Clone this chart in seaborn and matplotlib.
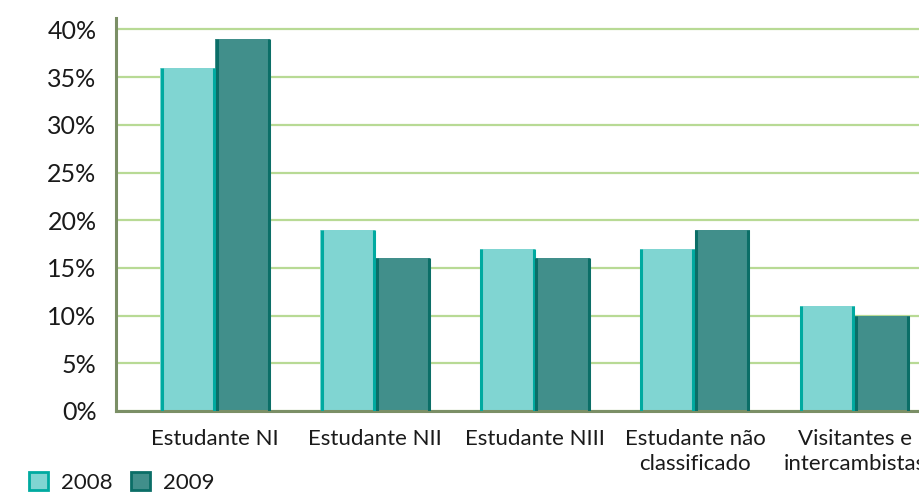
import pandas as pd
import numpy as np
import matplotlib
matplotlib.use('Agg')
import matplotlib.pyplot as plt
from matplotlib.patches import Patch
from matplotlib.ticker import PercentFormatter
import seaborn as sns

# %%
categorias = ['Estudante NI', 'Estudante NII', 'Estudante NIII',
              'Estudante não\nclassificado', 'Visitantes e\nintercambistas']
anos = ['2008', '2009']
v2008 = [36, 19, 17, 17, 11]
v2009 = [39, 16, 16, 19, 10]
yticks = [0, 5, 10, 15, 20, 25, 30, 35, 40]

face = {'2008': '#80d5d2', '2009': '#418f8b'}
edge = {'2008': '#00aaa0', '2009': '#0b6e67'}
grid_c = '#b8da95'
spine_c = '#7b8f66'

# %%
df = pd.DataFrame({'categoria': categorias * 2,
                   'ano': ['2008'] * len(categorias) + ['2009'] * len(categorias),
                   'valor': v2008 + v2009})

sns.set_style('white')
plt.rcParams['font.family'] = ['Lato', 'DejaVu Sans']

fig = plt.figure(figsize=(9.19, 4.93), dpi=100)
ax = fig.add_axes([116 / 919, 82 / 493, 838 / 919, 393 / 493])

sns.barplot(data=df, x='categoria', y='valor', hue='ano', palette=face,
            width=0.6875, gap=0, saturation=1, linewidth=0, ax=ax, legend=False)

# coloured side stripes on every bar
for cont, ano in zip(ax.containers, anos):
    for p in cont.patches:
        x0, w, h = p.get_x(), p.get_width(), p.get_height()
        ax.vlines([x0 + 0.009, x0 + w - 0.009], 0, h, colors=edge[ano], lw=2.2, zorder=3)

ax.set_xlim(-0.62, 4.62)
ax.set_ylim(0, 41.2)
ax.set_yticks(yticks)
ax.yaxis.set_major_formatter(PercentFormatter(decimals=0))
ax.grid(axis='y', color=grid_c, lw=1.6, zorder=0)
ax.set_axisbelow(True)
ax.set_xlabel('')
ax.set_ylabel('')

for s in ['top', 'right']:
    ax.spines[s].set_visible(False)
for s in ['left', 'bottom']:
    ax.spines[s].set_color(spine_c)
    ax.spines[s].set_linewidth(2.2)

ax.tick_params(axis='y', length=11, width=1.6, color=grid_c, labelsize=18,
               labelcolor='#1a1a1a', pad=3)
ax.tick_params(axis='x', length=0, labelsize=16, labelcolor='#1a1a1a', pad=13)
ax.get_yticklines()[0].set_color(spine_c)
ax.get_yticklines()[0].set_markeredgewidth(2.2)
for t in ax.get_xticklabels():
    t.set_linespacing(1.3)

handles = [Patch(facecolor=face[a], edgecolor=edge[a], lw=2) for a in anos]
fig.legend(handles, anos, loc='lower left', bbox_to_anchor=(0.01, -0.04),
           ncol=2, frameon=False, fontsize=16, handlelength=0.85, handleheight=0.85,
           handletextpad=0.6, columnspacing=0.8, labelcolor='#1a1a1a')

fig.savefig('out.png', dpi=100)
